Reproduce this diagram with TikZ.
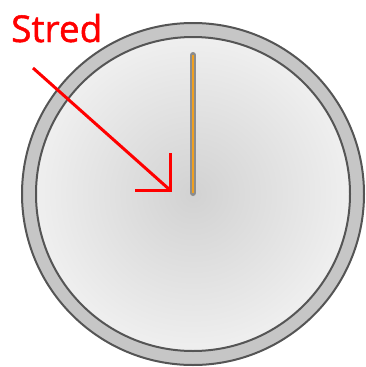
\documentclass[tikz,border=0pt]{standalone}
\usepackage{fontspec}
\setmainfont{Open Sans}
\newfontfamily\labelfont[FakeBold=1.3]{Open Sans}
\definecolor{ringgray}{HTML}{C6C6C6}
\definecolor{rimline}{HTML}{555555}
\definecolor{facein}{HTML}{D2D2D2}
\definecolor{faceout}{HTML}{EFEFEF}
\definecolor{needlegray}{HTML}{8C8C8C}
\definecolor{needleorange}{HTML}{F0A020}
\tikzset{
  rim/.style={draw=rimline, line width=2pt},
  pointer/.style={red, line width=3pt, line join=miter},
}
\begin{document}
\begin{tikzpicture}[x=1pt, y=-1pt]
    \useasboundingbox (0,0) rectangle (366,367);
    % --- 1. 表盘 ---
    \coordinate (stred) at (193,194);
    \fill[ringgray, rim] (stred) circle (171pt); % 外圈
    \shade[inner color=facein, outer color=faceout] (stred) circle (157pt);
    \draw[rim] (stred) circle (157pt); % 内圈

    % --- 2. 指针 ---
    \draw[needlegray, line width=6pt, line cap=round] (193,55) -- (193,193);
    \draw[needleorange, line width=2pt] (193,55) -- (193,193);

    % --- 3. 标注 ---
    \node[red, font=\labelfont\fontsize{37}{42}\selectfont, anchor=base west, inner sep=0pt]
      (label) at (11,42) {Stred};
    \coordinate (start) at (33,68);
    \coordinate (tip) at (170,190);
    \draw[pointer] (start) -- (tip);
    % 直角箭头
    \draw[pointer] ([yshift=37pt]tip) -- (tip) -- ([xshift=-35pt]tip);
\end{tikzpicture}
\end{document}
